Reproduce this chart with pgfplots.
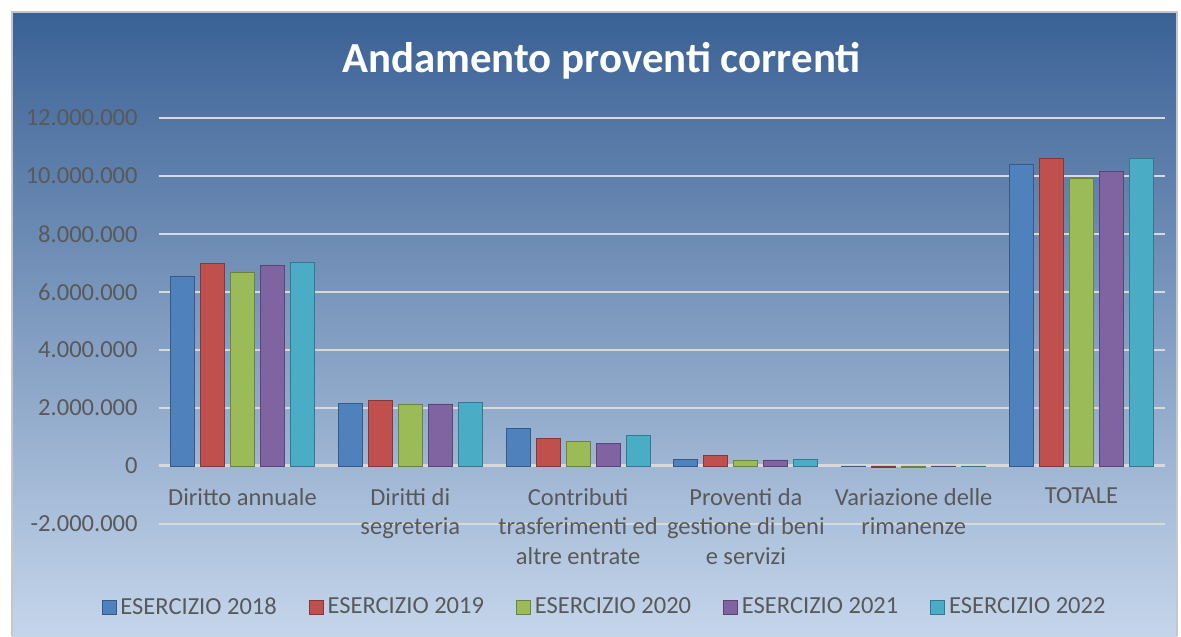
\documentclass[border=0pt]{standalone}
\usepackage{fontspec}
\setmainfont{Carlito}
\usepackage{pgfplots}
\pgfplotsset{compat=1.18}

\definecolor{bgtop}{HTML}{3A6195}
\definecolor{bgbot}{HTML}{C5D6EB}
\definecolor{txt}{HTML}{595959}
\definecolor{gridc}{HTML}{D9D9D9}
\definecolor{c18}{HTML}{4F81BD}
\definecolor{c19}{HTML}{C0504D}
\definecolor{c20}{HTML}{9BBB59}
\definecolor{c21}{HTML}{8064A2}
\definecolor{c22}{HTML}{4BACC6}

\newcommand{\lblfont}{\fontsize{12.3}{14.9}\selectfont}

\pgfplotsset{
  bevel/.style={
      fill=#1, draw=#1!70!black, line width=0.4bp,
    },
}

\begin{document}
\begin{tikzpicture}
  % page and chart area (1 px of the reference = 0.5bp)
  \fill[white] (-79.3bp,-56bp) rectangle (511.2bp,262bp);
  \shade[top color=bgtop, bottom color=bgbot] (-73.3bp,-56bp) rectangle (509.2bp,256bp);
  \draw[gray!45, line width=0.6bp] (-73.3bp,-56bp) -- (-73.3bp,256bp) -- (509.2bp,256bp) -- (509.2bp,-56bp);

  \node[white, font=\bfseries\fontsize{21.5}{25}\selectfont, anchor=base]
    at (221.5bp,225.5bp) {Andamento proventi correnti};

  \begin{axis}[
      at={(0,0)}, anchor=south west,
      scale only axis,
      width=503.4bp, height=203bp,
      xmin=-0.5, xmax=5.5,
      ymin=-2000000, ymax=12000000,
      axis x line=middle,
      axis y line=left,
      x axis line style={-, draw=gridc, line width=1.5bp},
      y axis line style={draw=none},
      major tick length=0pt,
      ymajorgrids,
      major grid style={draw=gridc, line width=1bp},
      ytick={-2000000,0,2000000,4000000,6000000,8000000,10000000,12000000},
      yticklabels={-2.000.000,0,2.000.000,4.000.000,6.000.000,8.000.000,10.000.000,12.000.000},
      scaled y ticks=false,
      y tick label style={font=\lblfont, text=txt, xshift=-7bp},
      xtick={0,1,2,3,4,5},
      xticklabels={
          {Diritto annuale},
          {Diritti di\\segreteria},
          {Contributi\\trasferimenti ed\\altre entrate},
          {Proventi da\\gestione di beni\\e servizi},
          {Variazione delle\\rimanenze},
          {TOTALE}},
      x tick label style={font=\lblfont, text=txt, align=center, anchor=north, yshift=-7.5bp},
      ybar=3bp,
      bar width=12bp,
      legend style={
          at={(0.444,-0.205)}, anchor=center,
          draw=none, fill=none,
          legend columns=5,
          font=\lblfont,
          /tikz/every even column/.append style={column sep=14bp},
        },
      legend image code/.code={
          \draw[#1] (0bp,-3.5bp) rectangle (7bp,3.5bp);
        },
    ]

    % ESERCIZIO 2018
    \addplot[bevel=c18]
    coordinates {(0,6550000) (1,2170000) (2,1300000) (3,240000) (4,-15000) (5,10400000)};
    \addlegendentry{\textcolor{txt}{ESERCIZIO 2018}}

    % ESERCIZIO 2019
    \addplot[bevel=c19]
    coordinates {(0,6990000) (1,2260000) (2,960000) (3,350000) (4,-45000) (5,10600000)};
    \addlegendentry{\textcolor{txt}{ESERCIZIO 2019}}

    % ESERCIZIO 2020
    \addplot[bevel=c20]
    coordinates {(0,6690000) (1,2120000) (2,840000) (3,180000) (4,-40000) (5,9900000)};
    \addlegendentry{\textcolor{txt}{ESERCIZIO 2020}}

    % ESERCIZIO 2021
    \addplot[bevel=c21]
    coordinates {(0,6900000) (1,2140000) (2,780000) (3,210000) (4,-10000) (5,10170000)};
    \addlegendentry{\textcolor{txt}{ESERCIZIO 2021}}

    % ESERCIZIO 2022
    \addplot[bevel=c22]
    coordinates {(0,7010000) (1,2190000) (2,1050000) (3,230000) (4,-5000) (5,10600000)};
    \addlegendentry{\textcolor{txt}{ESERCIZIO 2022}}

  \end{axis}
\end{tikzpicture}
\end{document}
